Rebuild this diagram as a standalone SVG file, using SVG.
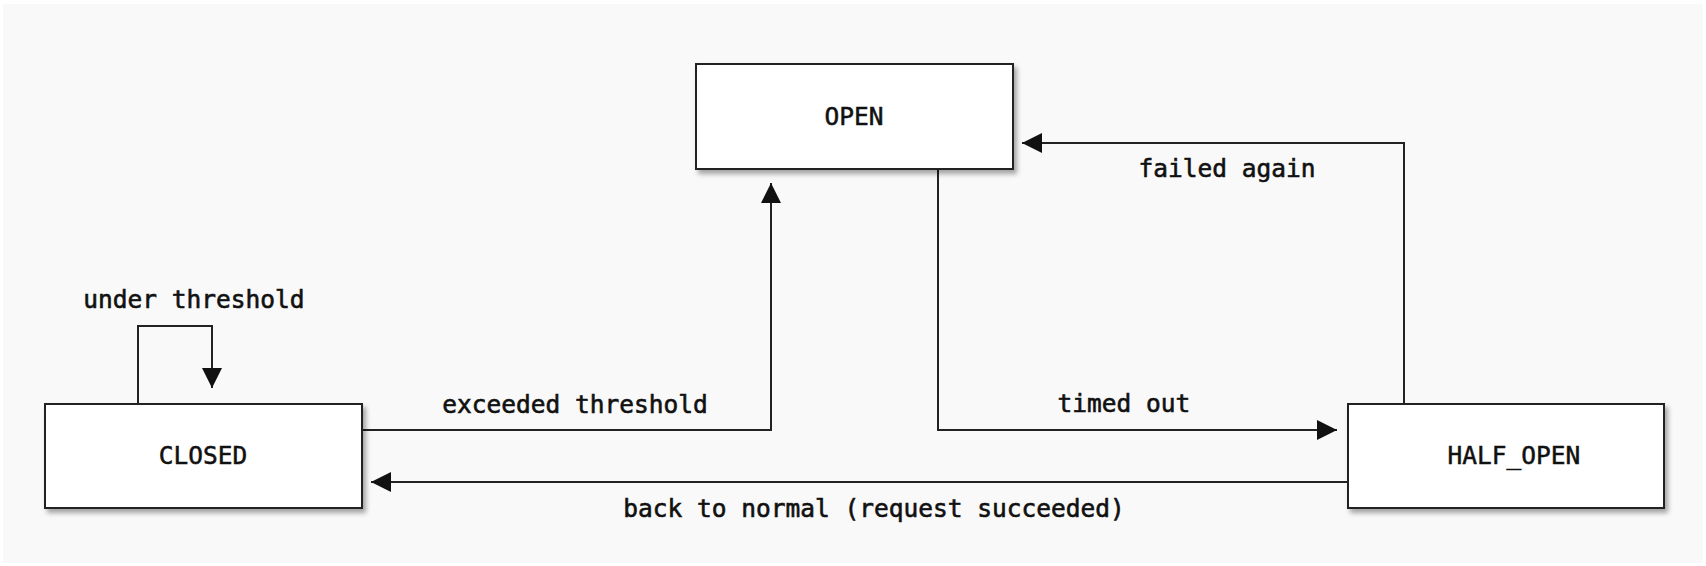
<svg xmlns="http://www.w3.org/2000/svg" width="1706" height="566" viewBox="0 0 1706 566">
  <style>
    .node rect { fill: #ffffff; stroke: #222222; stroke-width: 2; filter: url(#shadow); }
    .node text { font-family: "DejaVu Sans Mono", "Liberation Mono", monospace; font-size: 24.5px; fill: #111111; stroke: #111111; stroke-width: 0.5; text-anchor: middle; }
    .edge { fill: none; stroke: #222222; stroke-width: 2; marker-end: url(#arrow); }
    .label { font-family: "DejaVu Sans Mono", "Liberation Mono", monospace; font-size: 24.5px; fill: #111111; stroke: #111111; stroke-width: 0.6; text-anchor: middle; }
  </style>
  <defs>
    <filter id="shadow" x="-10%" y="-10%" width="130%" height="140%">
      <feDropShadow dx="3" dy="4" stdDeviation="2.5" flood-color="#000000" flood-opacity="0.35"/>
    </filter>
    <marker id="arrow" markerUnits="userSpaceOnUse" markerWidth="22" markerHeight="22" viewBox="0 0 22 22" refX="20" refY="11" orient="auto">
      <path d="M0,1 L20,11 L0,21 Z" fill="#111111"/>
    </marker>
  </defs>
  <rect x="3" y="4" width="1700" height="559" fill="#f9f9f9"/>

  <g id="connectors">
    <path class="edge" d="M138,404 V326 H212 V388"/>
    <path class="edge" d="M362,430 H771 V183"/>
    <path class="edge" d="M938,169 V430 H1337"/>
    <path class="edge" d="M1404,404 V143 H1022"/>
    <path class="edge" d="M1348,482 H371"/>
    <text class="label" x="194" y="308">under threshold</text>
    <text class="label" x="575" y="413">exceeded threshold</text>
    <text class="label" x="1124" y="412">timed out</text>
    <text class="label" x="1227" y="177">failed again</text>
    <text class="label" x="874" y="517">back to normal (request succeeded)</text>
  </g>

  <g id="node-open" class="node">
    <rect x="696" y="64" width="317" height="105"/>
    <text x="854" y="125">OPEN</text>
  </g>
  <g id="node-closed" class="node">
    <rect x="45" y="404" width="317" height="104"/>
    <text x="203" y="464">CLOSED</text>
  </g>
  <g id="node-half-open" class="node">
    <rect x="1348" y="404" width="316" height="104"/>
    <text x="1514" y="464">HALF_OPEN</text>
  </g>
</svg>
